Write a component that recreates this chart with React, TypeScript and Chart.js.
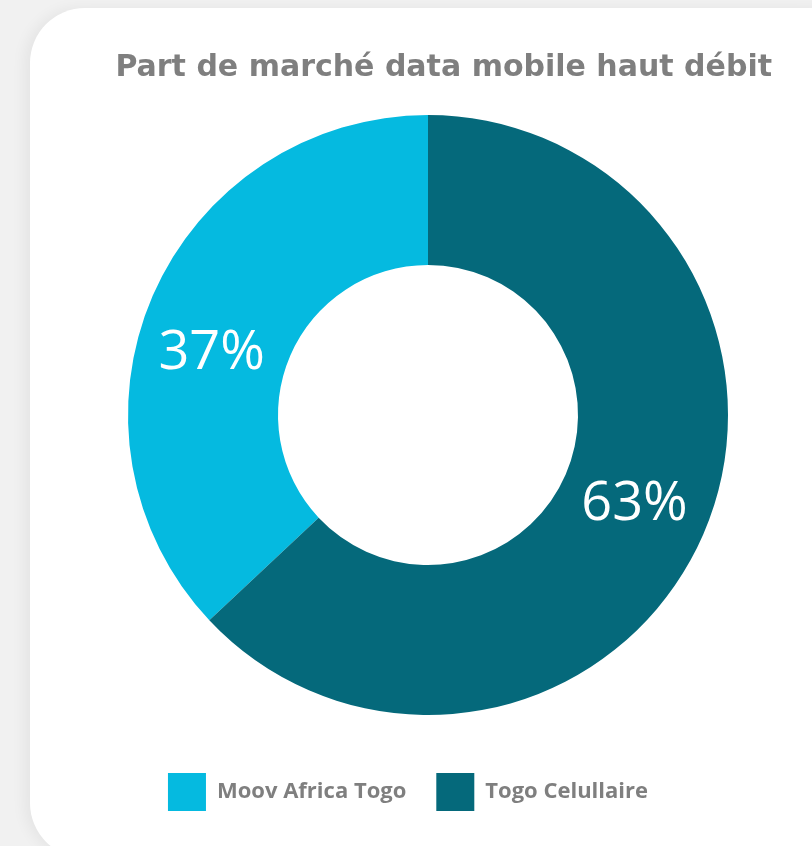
import React, { useEffect, useRef } from "react";
import { Chart, registerables } from "chart.js";

Chart.register(...registerables);

const chartTitle = "Part de marché data mobile haut débit";
const operators = ["Moov Africa Togo", "Togo Celullaire"];
const shares = [37, 63];
const sliceColors = ["#05BAE0", "#05697B"];

// small angular nudge (degrees) for each value label, as placed in the original
const labelAngleNudge = [-7.5, 0];

const valueLabels = {
  id: "valueLabels",
  afterDatasetsDraw(chart: any) {
    const ctx = chart.ctx;
    const meta = chart.getDatasetMeta(0);
    ctx.save();
    ctx.fillStyle = "#ffffff";
    ctx.font = "54px 'Open Sans'";
    ctx.textAlign = "center";
    ctx.textBaseline = "middle";
    meta.data.forEach((arc: any, i: number) => {
      const { x, y, startAngle, endAngle, innerRadius, outerRadius } = arc.getProps(
        ["x", "y", "startAngle", "endAngle", "innerRadius", "outerRadius"],
        true
      );
      const a = (startAngle + endAngle) / 2 + (labelAngleNudge[i] * Math.PI) / 180;
      const r = (innerRadius + outerRadius) / 2;
      ctx.fillText(shares[i] + "%", x + Math.cos(a) * r, y + Math.sin(a) * r);
    });
    ctx.restore();
  },
};

const legendShift = {
  id: "legendShift",
  afterInit(chart: any) {
    const legend = chart.legend;
    if (!legend || legend.__shifted) return;
    const orig = legend.draw;
    legend.draw = function (...args: any[]) {
      const ctx = this.ctx;
      ctx.save();
      ctx.translate(-20, 0);
      orig.apply(this, args);
      ctx.restore();
    };
    legend.__shifted = true;
  },
};

export default function App() {
  const ref = useRef<HTMLCanvasElement>(null);
  useEffect(() => {
    document.body.style.margin = "0";
    if (!ref.current) return;
    const chart = new Chart(ref.current, {
      type: "doughnut",
      data: {
        labels: operators,
        datasets: [
          {
            data: shares,
            backgroundColor: sliceColors,
            borderWidth: 0,
            hoverOffset: 0,
          },
        ],
      },
      options: {
        responsive: false,
        animation: false,
        rotation: -133.2,
        cutout: "50%",
        layout: { padding: { left: 84, right: 40, top: 0, bottom: 25 } },
        plugins: {
          tooltip: { enabled: false },
          title: {
            display: true,
            text: chartTitle,
            align: "end",
            color: "#7f7f7f",
            font: { family: "'DejaVu Sans'", size: 30, weight: "bold", lineHeight: 1.2 },
            padding: { top: 50, bottom: 29 },
          },
          legend: {
            display: true,
            position: "bottom",
            title: { display: true, text: "", padding: { top: 13.6, bottom: 0 } },
            labels: {
              boxWidth: 38,
              boxHeight: 38,
              padding: 30,
              color: "#7f7f7f",
              font: { family: "'Open Sans'", size: 22, weight: "bold" },
            },
          },
        },
      },
      plugins: [valueLabels, legendShift],
    });
    return () => chart.destroy();
  }, []);

  return (
    <div
      style={{
        position: "relative",
        width: 812,
        height: 846,
        background: "#f1f1f1",
        overflow: "hidden",
      }}
    >
      <div
        style={{
          position: "absolute",
          left: 30,
          top: 8,
          width: 840,
          height: 850,
          background: "#ffffff",
          borderRadius: 55,
          boxShadow: "-6px 0 14px rgba(0,0,0,0.05)",
        }}
      />
      <canvas
        ref={ref}
        width={812}
        height={846}
        style={{ position: "absolute", left: 0, top: 0, width: 812, height: 846 }}
      />
    </div>
  );
}
